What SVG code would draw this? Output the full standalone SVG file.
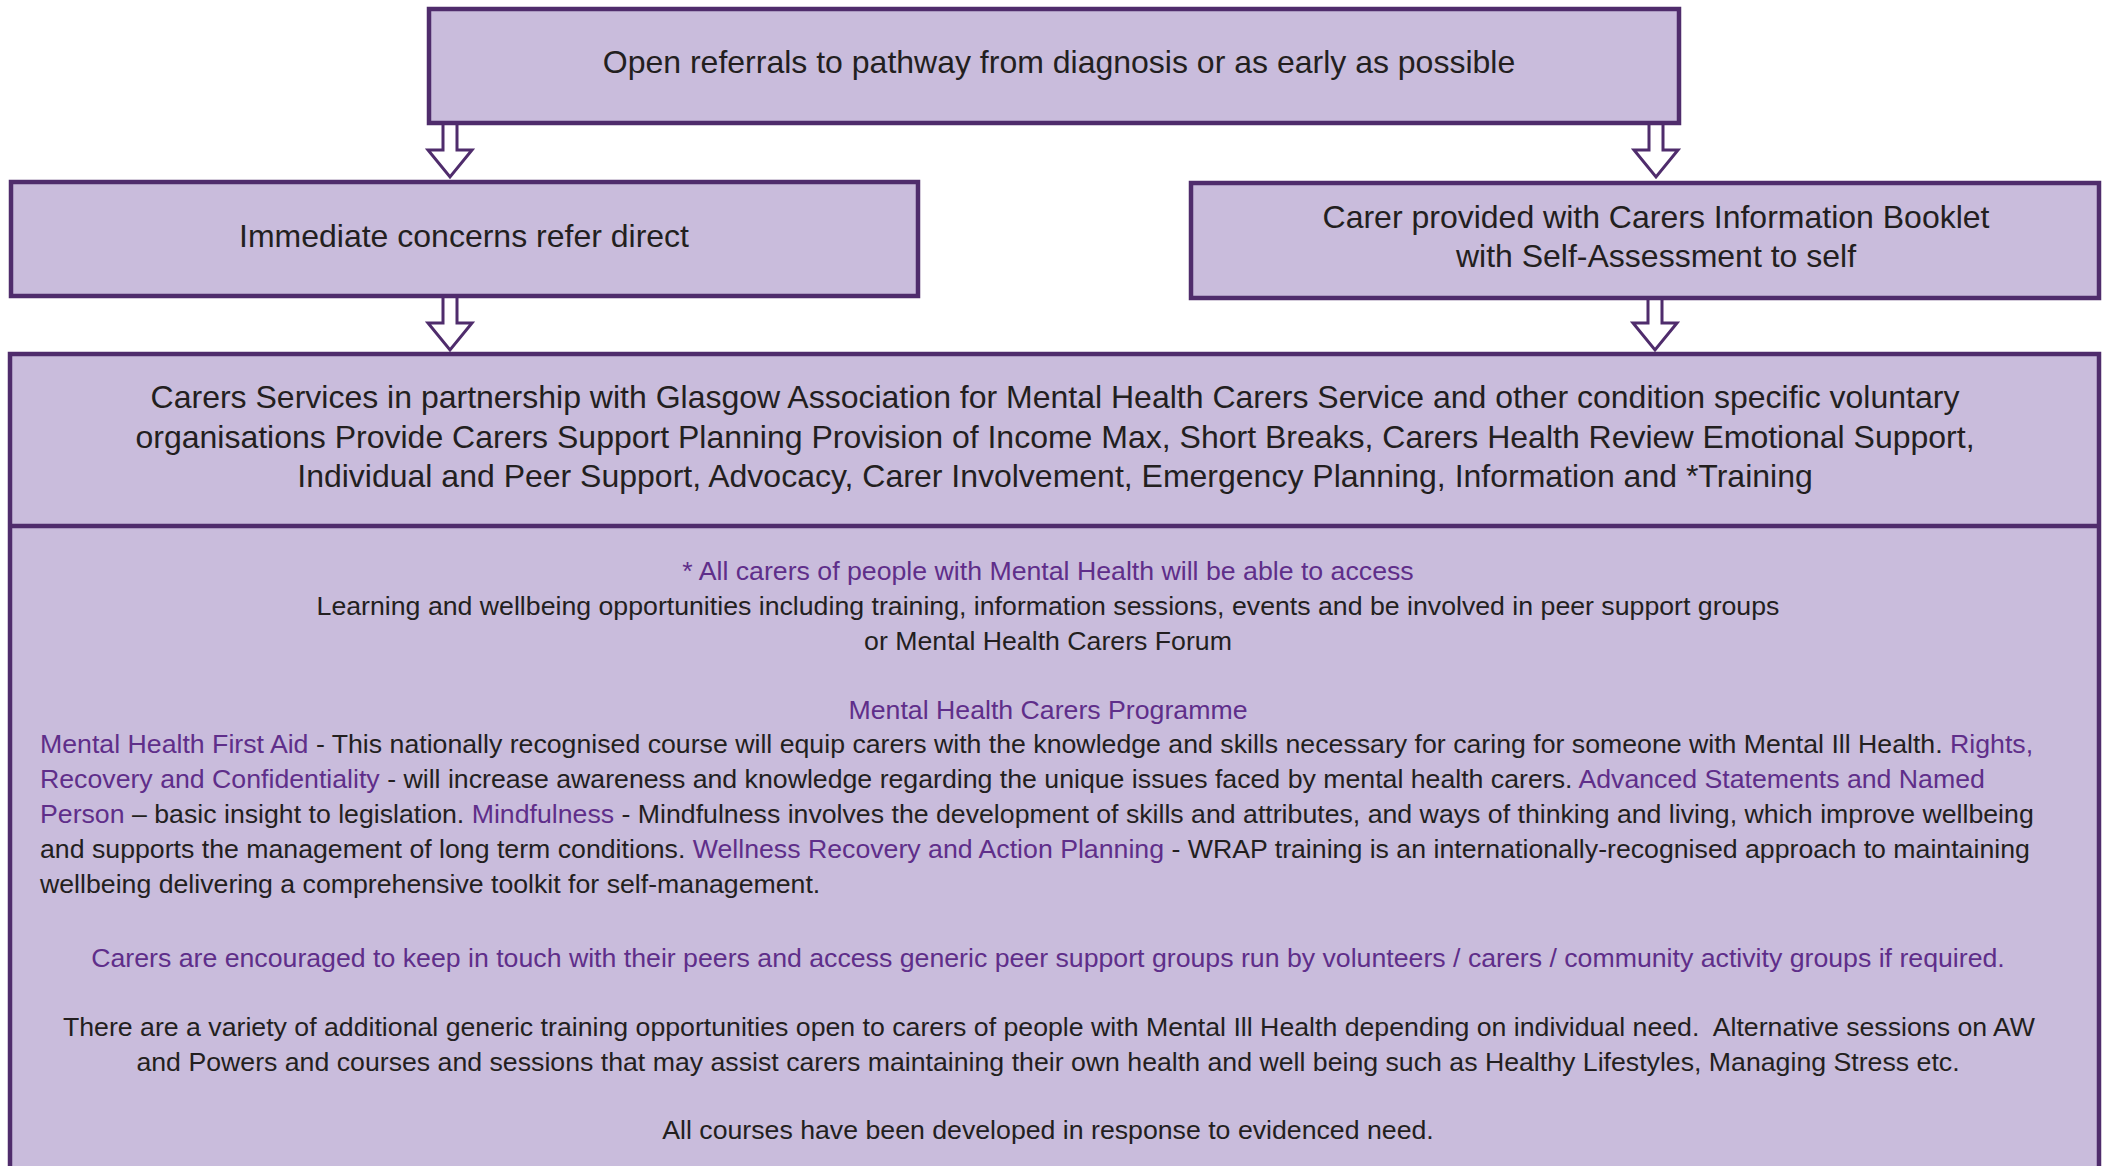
<svg xmlns="http://www.w3.org/2000/svg" width="2107" height="1166" viewBox="0 0 2107 1166">
<style>
  .box { fill: #C9BCDC; stroke: #4F2C6C; stroke-width: 4.5; }
  .arrow { fill: #FFFFFF; stroke: #4F2C6C; stroke-width: 3; stroke-linejoin: miter; }
  text { font-family: "Liberation Sans", Arial, sans-serif; fill: #231F20; white-space: pre; }
  .big { font-size: 32px; }
  .small { font-size: 26.7px; }
  .mid { text-anchor: middle; }
  .pu { fill: #5F2E8A; }
</style>
<rect width="2107" height="1166" fill="#FFFFFF"/>

<g id="connectors">
  <path class="arrow" d="M443,124 L443,150 L428,150 L450,177 L472,150 L457,150 L457,124"/>
  <path class="arrow" d="M1649,124 L1649,150 L1634,150 L1656,177 L1678,150 L1663,150 L1663,124"/>
  <path class="arrow" d="M443,298 L443,323 L428,323 L450,350 L472,323 L457,323 L457,298"/>
  <path class="arrow" d="M1648,300 L1648,323 L1633,323 L1655,350 L1677,323 L1662,323 L1662,300"/>
</g>

<g id="node-open-referrals">
  <rect class="box" x="429" y="9" width="1250" height="114"/>
  <text class="big mid" x="1059" y="73">Open referrals to pathway from diagnosis or as early as possible</text>
</g>

<g id="node-immediate">
  <rect class="box" x="11" y="182" width="907" height="114"/>
  <text class="big mid" x="464" y="247">Immediate concerns refer direct</text>
</g>

<g id="node-booklet">
  <rect class="box" x="1191" y="183" width="908" height="115"/>
  <text class="big mid" x="1656" y="228">Carer provided with Carers Information Booklet</text>
  <text class="big mid" x="1656" y="267">with Self-Assessment to self</text>
</g>

<g id="node-carers-services">
  <rect class="box" x="10" y="354" width="2089" height="840"/>
  <line x1="10" y1="526" x2="2099" y2="526" stroke="#4F2C6C" stroke-width="4.5"/>
  <text class="big mid" x="1055" y="408">Carers Services in partnership with Glasgow Association for Mental Health Carers Service and other condition specific voluntary</text>
  <text class="big mid" x="1055" y="448">organisations Provide Carers Support Planning Provision of Income Max, Short Breaks, Carers Health Review Emotional Support,</text>
  <text class="big mid" x="1055" y="487">Individual and Peer Support, Advocacy, Carer Involvement, Emergency Planning, Information and *Training</text>
</g>

<g id="node-training">
  <text class="small mid pu" x="1048" y="580">* All carers of people with Mental Health will be able to access</text>
  <text class="small mid" x="1048" y="615">Learning and wellbeing opportunities including training, information sessions, events and be involved in peer support groups</text>
  <text class="small mid" x="1048" y="650">or Mental Health Carers Forum</text>
  <text class="small mid pu" x="1048" y="719">Mental Health Carers Programme</text>
  <text class="small" x="40" y="753"><tspan class="pu">Mental Health First Aid</tspan> - This nationally recognised course will equip carers with the knowledge and skills necessary for caring for someone with Mental Ill Health. <tspan class="pu">Rights,</tspan></text>
  <text class="small" x="40" y="788"><tspan class="pu">Recovery and Confidentiality</tspan> - will increase awareness and knowledge regarding the unique issues faced by mental health carers. <tspan class="pu">Advanced Statements and Named</tspan></text>
  <text class="small" x="40" y="823"><tspan class="pu">Person</tspan> – basic insight to legislation. <tspan class="pu">Mindfulness</tspan> - Mindfulness involves the development of skills and attributes, and ways of thinking and living, which improve wellbeing</text>
  <text class="small" x="40" y="858">and supports the management of long term conditions. <tspan class="pu">Wellness Recovery and Action Planning</tspan> - WRAP training is an internationally-recognised approach to maintaining</text>
  <text class="small" x="40" y="893">wellbeing delivering a comprehensive toolkit for self-management.</text>
  <text class="small mid pu" x="1048" y="967">Carers are encouraged to keep in touch with their peers and access generic peer support groups run by volunteers / carers / community activity groups if required.</text>
  <text class="small mid" x="1049" y="1036">There are a variety of additional generic training opportunities open to carers of people with Mental Ill Health depending on individual need.  Alternative sessions on AW</text>
  <text class="small mid" x="1048" y="1071">and Powers and courses and sessions that may assist carers maintaining their own health and well being such as Healthy Lifestyles, Managing Stress etc.</text>
  <text class="small mid" x="1048" y="1139">All courses have been developed in response to evidenced need.</text>
</g>
</svg>
